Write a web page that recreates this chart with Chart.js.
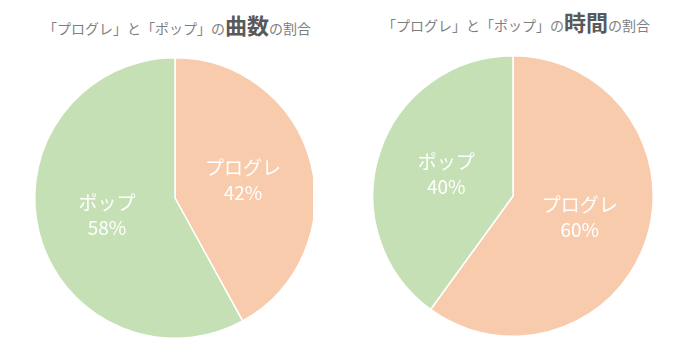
<!DOCTYPE html>
<html>
<head>
<meta charset="utf-8">
<script src="https://cdn.jsdelivr.net/npm/chart.js@4/dist/chart.umd.min.js"></script>
<style>
  html, body { margin: 0; padding: 0; background: #fff; }
  body { width: 700px; height: 357px; position: relative; overflow: hidden;
         font-family: "Noto Sans CJK JP", "Noto Sans", sans-serif; }
  .title { position: absolute; white-space: nowrap; color: #7f7f7f; font-size: 14px;
           transform: translateX(-50%); line-height: 1; }
  .title b { color: #595959; font-size: 22px; font-weight: 700; }
  .wrap { position: absolute; top: 0; height: 357px; overflow: hidden; }
</style>
</head>
<body>
<div class="title" id="t1" style="left:177px; top:13px;">「プログレ」と「ポップ」の<b>曲数</b>の割合</div>
<div class="title" id="t2" style="left:516px; top:10px;">「プログレ」と「ポップ」の<b>時間</b>の割合</div>
<div class="wrap" style="left:0; width:313px;"><canvas id="c1" width="350" height="357"></canvas></div>
<div class="wrap" style="left:350px; width:350px;"><canvas id="c2" width="350" height="357"></canvas></div>
<script>
const categories = ['プログレ', 'ポップ'];
const songCountShare = [42, 58];
const playTimeShare = [60, 40];
const sliceColors = ['#F8CBAD', '#C5E0B4'];

const labelPlugin = {
  id: 'centerLabels',
  afterDatasetsDraw(chart) {
    const ctx = chart.ctx;
    const ds = chart.data.datasets[0];
    const total = ds.data.reduce((a, b) => a + b, 0);
    chart.getDatasetMeta(0).data.forEach((arc, i) => {
      const p = arc.tooltipPosition();
      const pct = Math.round(ds.data[i] / total * 100) + '%';
      ctx.save();
      ctx.fillStyle = '#ffffff';
      ctx.textAlign = 'center';
      ctx.textBaseline = 'middle';
      ctx.font = '400 19px "Noto Sans CJK JP", "Noto Sans", sans-serif';
      ctx.fillText(chart.data.labels[i], p.x, p.y - 13);
      ctx.fillText(pct, p.x, p.y + 12);
      ctx.restore();
    });
  }
};

function makePie(id, values, padding) {
  return new Chart(document.getElementById(id), {
    type: 'pie',
    data: {
      labels: categories,
      datasets: [{
        data: values,
        backgroundColor: sliceColors,
        borderColor: '#ffffff',
        borderWidth: 1.5
      }]
    },
    options: {
      responsive: false,
      animation: false,
      layout: { padding: padding },
      plugins: { legend: { display: false }, tooltip: { enabled: false }, title: { display: false } }
    },
    plugins: [labelPlugin]
  });
}

makePie('c1', songCountShare, { left: 34, right: 34, top: 57, bottom: 18 });
makePie('c2', playTimeShare, { left: 22, right: 46, top: 55, bottom: 20 });
</script>
</body>
</html>
